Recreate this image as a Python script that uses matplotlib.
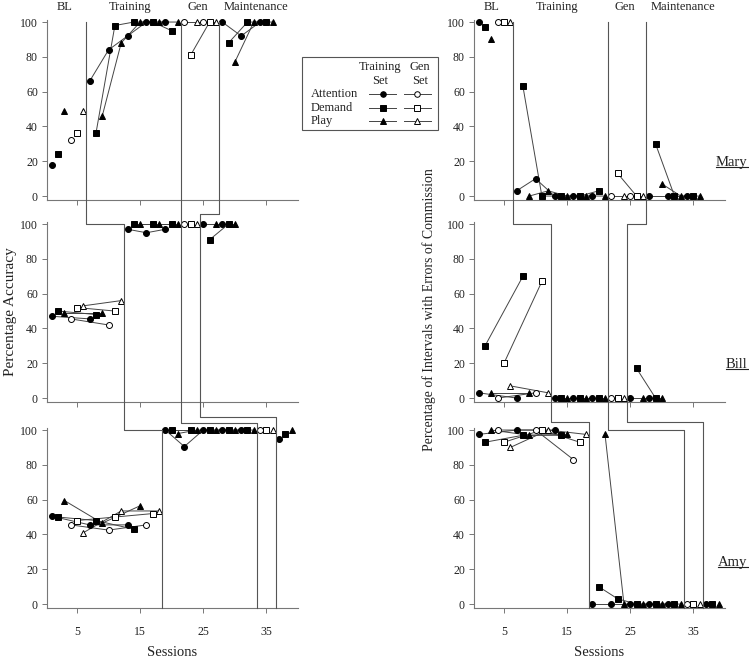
import numpy as np
import matplotlib
matplotlib.use('Agg')
import matplotlib.pyplot as plt
from matplotlib.lines import Line2D
from matplotlib.patches import Rectangle

plt.rcParams['font.family'] = ['Liberation Serif', 'DejaVu Serif']

# ---------------- data ----------------
participants = ['Mary', 'Bill', 'Amy']
conditions = ['Attention', 'Demand', 'Play']
phase_names = ['BL', 'Training', 'Gen', 'Maintenance']

# Sessions for each condition (training set: filled, generalization set: open)
mary_att_train_s = [1, 7, 10, 13, 16, 19, 28, 31, 34]
mary_dem_train_s = [2, 8, 11, 14, 17, 20, 29, 32, 35]
mary_play_train_s = [3, 9, 12, 15, 18, 21, 30, 33, 36]
mary_att_gen_s = [4, 22, 25]
mary_dem_gen_s = [5, 23, 26]
mary_play_gen_s = [6, 24, 27]

bill_att_train_s = [1, 7, 13, 16, 19, 25, 28]
bill_dem_train_s = [2, 8, 14, 17, 20, 26, 29]
bill_play_train_s = [3, 9, 15, 18, 21, 27, 30]
bill_att_gen_s = [4, 10, 22]
bill_dem_gen_s = [5, 11, 23]
bill_play_gen_s = [6, 12, 24]

amy_att_train_s = [1, 7, 13, 19, 22, 25, 28, 31, 37]
amy_dem_train_s = [2, 8, 14, 20, 23, 26, 29, 32, 38]
amy_play_train_s = [3, 9, 15, 21, 24, 27, 30, 33, 39]
amy_att_gen_s = [4, 10, 16, 34]
amy_dem_gen_s = [5, 11, 17, 35]
amy_play_gen_s = [6, 12, 18, 36]

# Percentage accuracy
mary_acc_att_train = [18, 66, 84, 92, 100, 100, 100, 92, 100]
mary_acc_dem_train = [24, 36, 98, 100, 100, 95, 88, 100, 100]
mary_acc_play_train = [49, 46, 88, 100, 100, 100, 77, 100, 100]
mary_acc_att_gen = [32, 100, 100]
mary_acc_dem_gen = [36, 81, 100]
mary_acc_play_gen = [49, 100, 100]

bill_acc_att_train = [47, 45.5, 97, 95, 97, 100, 100]
bill_acc_dem_train = [50, 48, 100, 100, 100, 91, 100]
bill_acc_play_train = [49, 49, 100, 100, 100, 100, 100]
bill_acc_att_gen = [45.5, 42, 100]
bill_acc_dem_gen = [52, 50, 100]
bill_acc_play_gen = [53, 56, 100]

amy_acc_att_train = [50.5, 45.5, 45.5, 100, 90.5, 100, 100, 100, 95]
amy_acc_dem_train = [50, 48, 43, 100, 100, 100, 100, 100, 98]
amy_acc_play_train = [59.5, 46.5, 56.5, 98, 100, 100, 100, 100, 100]
amy_acc_att_gen = [45.5, 42.5, 45.5, 100]
amy_acc_dem_gen = [48, 50, 52, 100]
amy_acc_play_gen = [41, 53.5, 53.5, 100]

# Percentage of intervals with errors of commission
mary_err_att_train = [100, 3, 10, 0, 0, 0, 0, 0, 0]
mary_err_dem_train = [97, 63, 0, 0, 0, 3, 30, 0, 0]
mary_err_play_train = [90, 0, 3, 0, 0, 0, 7, 0, 0]
mary_err_att_gen = [100, 0, 0]
mary_err_dem_gen = [100, 13, 0]
mary_err_play_gen = [100, 0, 0]

bill_err_att_train = [3, 0, 0, 0, 0, 0, 0]
bill_err_dem_train = [30, 70, 0, 0, 0, 17, 0]
bill_err_play_train = [3, 3, 0, 0, 0, 0, 0]
bill_err_att_gen = [0, 3, 0]
bill_err_dem_gen = [20, 67, 0]
bill_err_play_gen = [7, 3, 0]

amy_err_att_train = [97.5, 100, 100, 0, 0, 0, 0, 0, 0]
amy_err_dem_train = [93, 97, 97, 10, 3, 0, 0, 0, 0]
amy_err_play_train = [100, 97, 97.5, 97.5, 0, 0, 0, 0, 0]
amy_err_att_gen = [100, 100, 83, 0]
amy_err_dem_gen = [93, 100, 93, 0]
amy_err_play_gen = [90, 100, 97.5, 0]

# Phase change positions (BL|Training, Training|Gen, Gen|Maintenance)
mary_phases = [6.5, 21.5, 27.5]
bill_phases = [12.5, 21.5, 24.5]
amy_phases = [18.5, 33.5, 36.5]

x_ticks = [5, 15, 25, 35]
y_ticks = [0, 20, 40, 60, 80, 100]
phase_label_x = [3.1, 13.4, 24.2, 33.4]

sessions = {
    'Mary': [mary_att_train_s, mary_dem_train_s, mary_play_train_s,
             mary_att_gen_s, mary_dem_gen_s, mary_play_gen_s],
    'Bill': [bill_att_train_s, bill_dem_train_s, bill_play_train_s,
             bill_att_gen_s, bill_dem_gen_s, bill_play_gen_s],
    'Amy': [amy_att_train_s, amy_dem_train_s, amy_play_train_s,
            amy_att_gen_s, amy_dem_gen_s, amy_play_gen_s],
}
acc = {
    'Mary': [mary_acc_att_train, mary_acc_dem_train, mary_acc_play_train,
             mary_acc_att_gen, mary_acc_dem_gen, mary_acc_play_gen],
    'Bill': [bill_acc_att_train, bill_acc_dem_train, bill_acc_play_train,
             bill_acc_att_gen, bill_acc_dem_gen, bill_acc_play_gen],
    'Amy': [amy_acc_att_train, amy_acc_dem_train, amy_acc_play_train,
            amy_acc_att_gen, amy_acc_dem_gen, amy_acc_play_gen],
}
err = {
    'Mary': [mary_err_att_train, mary_err_dem_train, mary_err_play_train,
             mary_err_att_gen, mary_err_dem_gen, mary_err_play_gen],
    'Bill': [bill_err_att_train, bill_err_dem_train, bill_err_play_train,
             bill_err_att_gen, bill_err_dem_gen, bill_err_play_gen],
    'Amy': [amy_err_att_train, amy_err_dem_train, amy_err_play_train,
            amy_err_att_gen, amy_err_dem_gen, amy_err_play_gen],
}
phases = {'Mary': mary_phases, 'Bill': bill_phases, 'Amy': amy_phases}

# ---------------- style ----------------
W, H = 749, 662
fig = plt.figure(figsize=(W / 100, H / 100), dpi=100)
TXT = '#222222'
AXC = '#777777'
PHC = '#555555'
LNC = '#444444'
FS_TICK = 8.5
FS_LAB = 10
FS_PH = 9

def fx(x):
    return x / W

def fy(y):
    return 1 - y / H

marker_styles = [
    dict(marker='o', mfc='black', ms=4.3),
    dict(marker='s', mfc='black', ms=4.3),
    dict(marker='^', mfc='black', ms=4.8),
    dict(marker='o', mfc='white', ms=4.3),
    dict(marker='s', mfc='white', ms=4.3),
    dict(marker='^', mfc='white', ms=4.8),
]

col_x0 = [47, 474]
ax_w = 251
rows_px = [(20.3, 200.4), (222.3, 402.4), (428.3, 608.4)]
YLIM = (-2.5, 101)
XLIM = (0.25, 40)

axes = [[None] * 3 for _ in range(2)]
for c in range(2):
    for r in range(3):
        yt, yb = rows_px[r]
        ax = fig.add_axes([fx(col_x0[c]), fy(yb), ax_w / W, (yb - yt) / H])
        ax.set_xlim(*XLIM)
        ax.set_ylim(*YLIM)
        for s in ['top', 'right']:
            ax.spines[s].set_visible(False)
        for s in ['left', 'bottom']:
            ax.spines[s].set_color(AXC)
            ax.spines[s].set_linewidth(0.8)
        ax.set_xticks(x_ticks)
        ax.set_yticks(y_ticks)
        ax.tick_params(axis='both', colors=AXC, labelcolor=TXT, length=3.5,
                       width=0.7, labelsize=FS_TICK, direction='out')
        ax.tick_params(axis='y', pad=3)
        ax.tick_params(axis='x', pad=9)
        if r < 2:
            ax.set_xticklabels([])
        ax.patch.set_visible(False)
        axes[c][r] = ax

for c, data in enumerate([acc, err]):
    for r, name in enumerate(participants):
        ax = axes[c][r]
        bnd = phases[name]
        for k in range(6):
            s = np.array(sessions[name][k], dtype=float)
            v = np.array(data[name][k], dtype=float)
            ph = np.searchsorted(bnd, s)
            for p in np.unique(ph):
                m = ph == p
                if m.sum() > 1:
                    ax.plot(s[m], v[m], '-', color=LNC, lw=0.7, zorder=3,
                            clip_on=False)
            st = marker_styles[k]
            ax.plot(s, v, linestyle='none', marker=st['marker'], ms=st['ms'],
                    mfc=st['mfc'], mec='black', mew=0.7, zorder=4,
                    clip_on=False)

# phase labels
for c in range(2):
    ax = axes[c][0]
    tr = matplotlib.transforms.blended_transform_factory(ax.transData, ax.transAxes)
    for xl, lab in zip(phase_label_x, phase_names):
        ax.text(xl, 1.075, lab, transform=tr, ha='center', va='center',
                fontsize=FS_PH, color=TXT)

# phase change lines spanning panels:
# (panel row, participant whose phase position is used, y-value)
left_paths = [
    [(0, 0, 100), (1, 0, 100), (1, 1, 100), (2, 1, 100), (2, 2, 100), (2, 2, -2.5)],
    [(0, 0, 100), (2, 0, 104), (2, 2, 104), (2, 2, -2.5)],
    [(0, 0, 100), (1, 0, 105.7), (1, 1, 105.7), (2, 1, 107.5), (2, 2, 107.5), (2, 2, -2.5)],
]
right_paths = [
    [(0, 0, 100), (1, 0, 100), (1, 1, 100), (2, 1, 104.8), (2, 2, 104.8), (2, 2, -2.5)],
    [(0, 0, 100), (2, 0, 100), (2, 2, 100), (2, 2, -2.5)],
    [(0, 0, 100), (1, 0, 100), (1, 1, 100), (2, 1, 104.8), (2, 2, 104.8), (2, 2, -2.5)],
]
inv = fig.transFigure.inverted()
for c, paths in enumerate([left_paths, right_paths]):
    for j, path in enumerate(paths):
        xs, ys = [], []
        for (r, pidx, yv) in path:
            xv = phases[participants[pidx]][j]
            disp = axes[c][r].transData.transform((xv, yv))
            fxy = inv.transform(disp)
            xs.append(fxy[0])
            ys.append(fxy[1])
        fig.add_artist(Line2D(xs, ys, transform=fig.transFigure, color=PHC,
                              lw=0.8, zorder=2))

# participant names (underlined)
name_y = [19.5, 19.5, 24]
fig.canvas.draw()
renderer = fig.canvas.get_renderer()
for r, name in enumerate(participants):
    ax = axes[1][r]
    t = ax.text(43.6, name_y[r], name, ha='right', va='center', fontsize=10.5,
                color=TXT, clip_on=False)
    fig.canvas.draw()
    bb = t.get_window_extent(renderer=renderer)
    (x0, y0), (x1, y1) = inv.transform([(bb.x0, bb.y0 + 1.5), (bb.x1, bb.y0 + 1.5)])
    fig.add_artist(Line2D([x0, x1], [y0, y0], transform=fig.transFigure,
                          color=TXT, lw=0.8))

# axis labels
fig.text(fx(11), fy(312), 'Percentage Accuracy', rotation=90, ha='center',
         va='center', fontsize=FS_LAB + 1, color=TXT)
fig.text(fx(429), fy(310), 'Percentage of Intervals with Errors of Commission',
         rotation=90, ha='center', va='center', fontsize=FS_LAB, color=TXT)
fig.text(fx(172.5), fy(653), 'Sessions', ha='center', va='center',
         fontsize=FS_LAB + 0.5, color=TXT)
fig.text(fx(599.5), fy(653), 'Sessions', ha='center', va='center',
         fontsize=FS_LAB + 0.5, color=TXT)

# legend (manual)
fig.add_artist(Rectangle((fx(302), fy(130)), (438 - 302) / W, (130 - 57) / H,
                         transform=fig.transFigure, fill=False,
                         edgecolor='#555555', lw=0.8))
fig.text(fx(380), fy(67), 'Training', ha='center', va='center', fontsize=FS_PH, color=TXT)
fig.text(fx(380), fy(81), 'Set', ha='center', va='center', fontsize=FS_PH, color=TXT)
fig.text(fx(420), fy(67), 'Gen', ha='center', va='center', fontsize=FS_PH, color=TXT)
fig.text(fx(420), fy(81), 'Set', ha='center', va='center', fontsize=FS_PH, color=TXT)
row_y = [94, 108, 121]
for i, cond in enumerate(conditions):
    fig.text(fx(311), fy(row_y[i]), cond, ha='left', va='center', fontsize=FS_PH, color=TXT)
    for k, (xa, xb, xm) in enumerate([(369, 396, 383), (404, 431, 417)]):
        st = marker_styles[i + 3 * k]
        fig.add_artist(Line2D([fx(xa), fx(xb)], [fy(row_y[i])] * 2,
                              transform=fig.transFigure, color=LNC, lw=0.7))
        fig.add_artist(Line2D([fx(xm)], [fy(row_y[i])], transform=fig.transFigure,
                              marker=st['marker'], ms=st['ms'] - 0.3, mfc=st['mfc'],
                              mec='black', mew=0.7, linestyle='none'))

fig.savefig('out.png', dpi=100)
